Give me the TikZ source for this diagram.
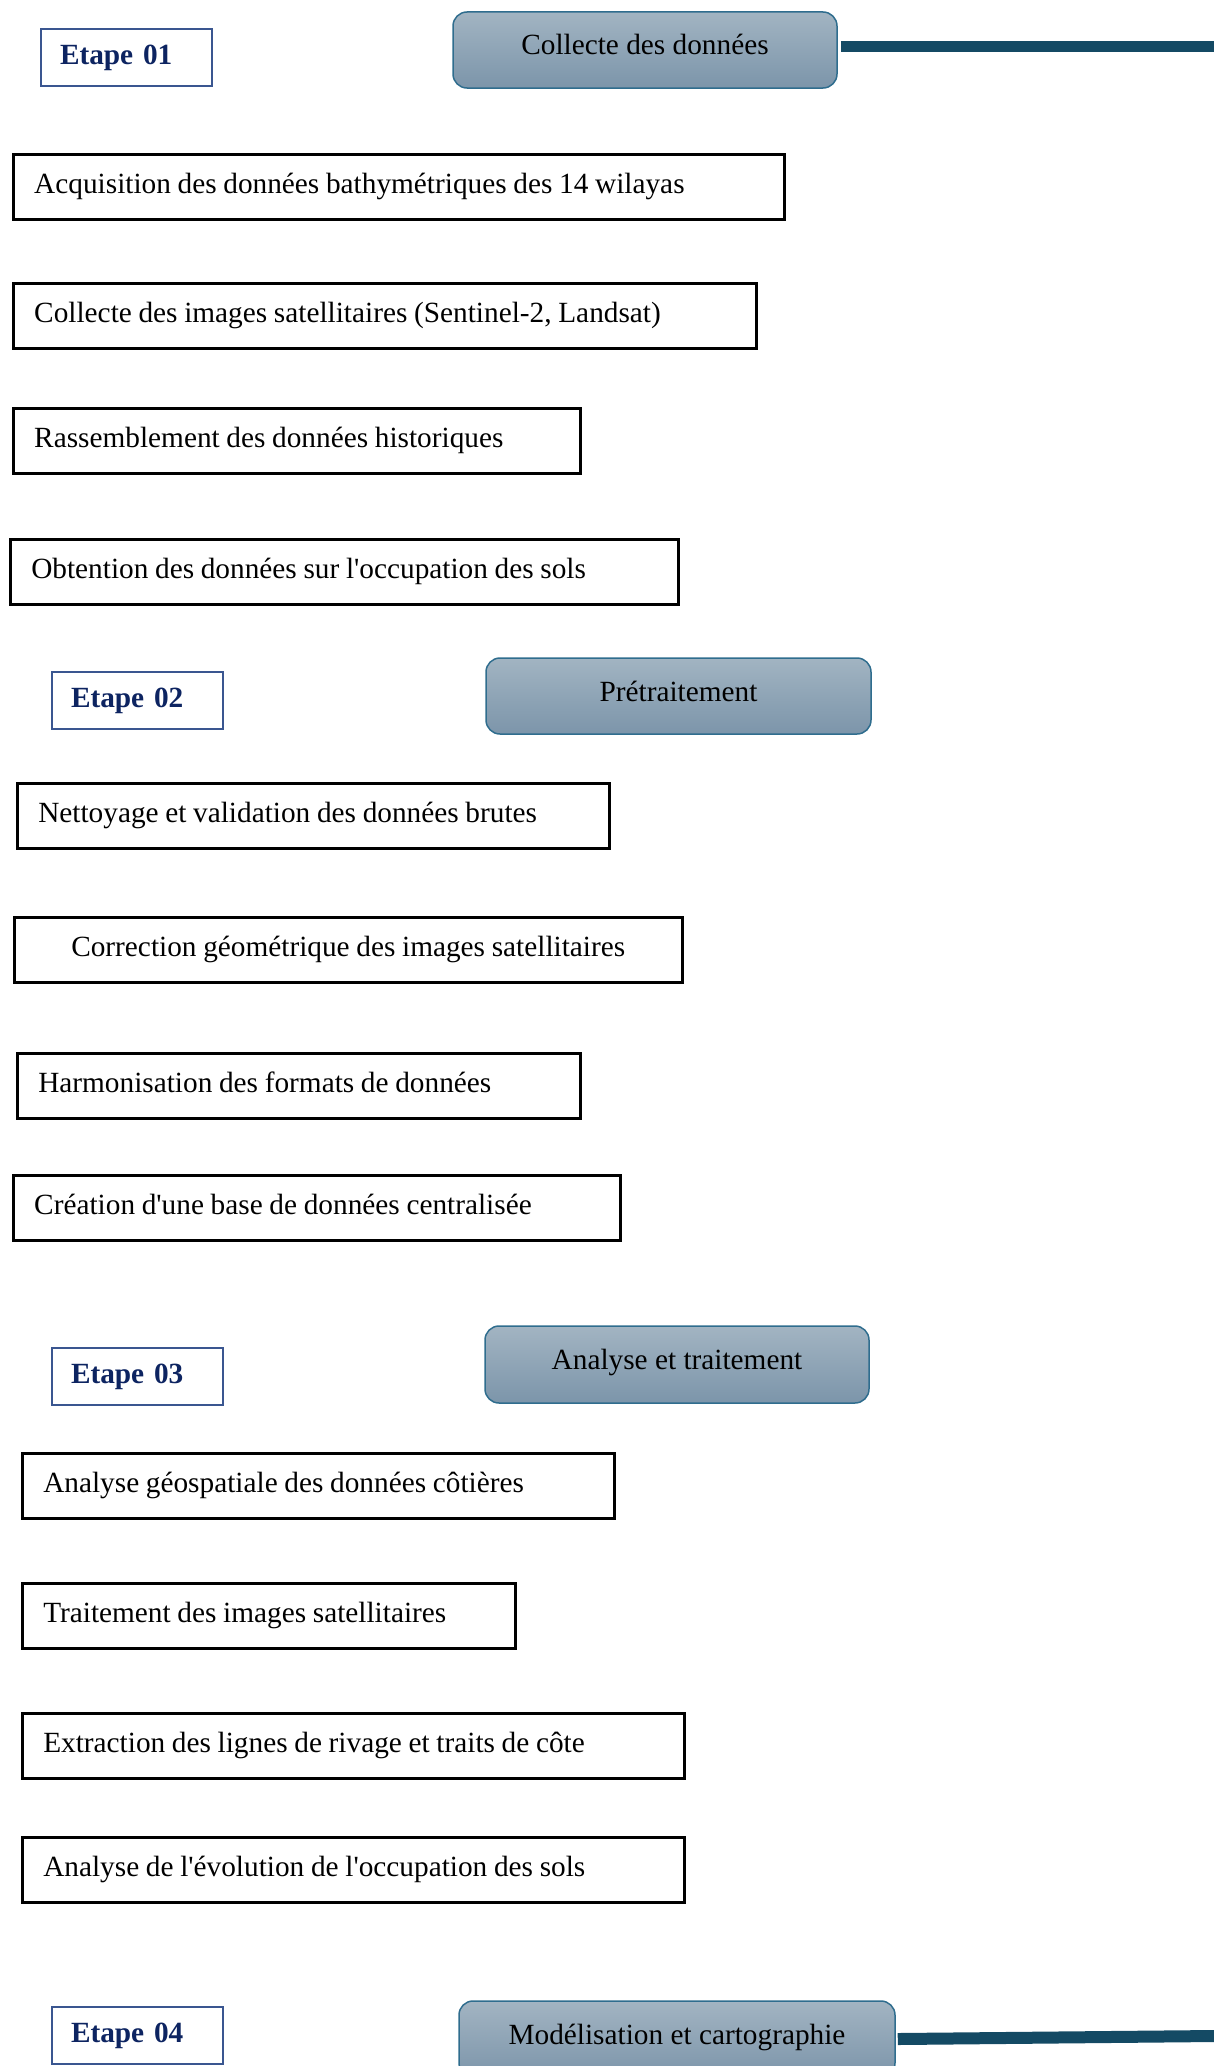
\documentclass[tikz,border=0pt]{standalone}
\usepackage{fontspec}
\setmainfont{Liberation Serif}[Ligatures=TeXOff]
\definecolor{phasetop}{HTML}{A2B4C2}
\definecolor{phasebot}{HTML}{7C95AA}
\definecolor{phaseline}{HTML}{2F6D8E}
\definecolor{barblue}{HTML}{144A64}
\definecolor{stepline}{HTML}{3A5690}
\definecolor{steptext}{HTML}{0D2461}

\begin{document}
\begin{tikzpicture}[x=1pt,y=-1pt,
  every node/.style={font=\fontsize{29.3}{35}\selectfont},
  stepbox/.style={draw=stepline, line width=2pt, fill=white, anchor=north west,
    minimum height=57pt, inner xsep=19pt, inner ysep=0pt, text width=133pt,
    text height=20pt, text depth=7pt, align=left, text=steptext,
    font=\fontsize{29.3}{35}\selectfont\bfseries},
  taskbox/.style={draw=black, line width=2.5pt, anchor=north west,
    minimum height=65pt, inner xsep=21pt, inner ysep=0pt,
    text height=20pt, text depth=7pt, align=left,
    execute at begin node={\spaceskip=0.228em\relax}},
  phasebox/.style={draw=phaseline, line width=1.5pt, rounded corners=14pt,
    top color=phasetop, bottom color=phasebot, minimum height=76pt,
    text height=20pt, text depth=10pt},
  bar/.style={draw=barblue, line width=11pt}]
\useasboundingbox (0,0) rectangle (1214,2066);
\clip (0,0) rectangle (1214,2066);

% Etape 01
\node[stepbox] (step1) at (40,28) {Etape 01};
\node[phasebox, minimum width=384pt] (collecte) at (645,50) {Collecte des données};
\coordinate (edge1) at (1214,47);
\draw[bar] ([xshift=3pt,yshift=3pt]collecte.east) -- (edge1);

\node[taskbox, text width=729pt] (t11) at (12,153) {Acquisition des données bathymétriques des 14 wilayas};
\node[taskbox, text width=701pt] (t12) at (12,282) {Collecte des images satellitaires (Sentinel-2, Landsat)};
\node[taskbox, text width=525pt] (t13) at (12,407) {Rassemblement des données historiques};
\node[taskbox, text width=626pt] (t14) at (9,538) {Obtention des données sur l'occupation des sols};

% Etape 02
\node[stepbox] (step2) at (51,671) {Etape 02};
\node[phasebox, minimum width=385pt] (pretrait) at (678.5,696) {Prétraitement};

\node[taskbox, text width=550pt] (t21) at (16,782) {Nettoyage et validation des données brutes};
\node[taskbox, text width=626pt, align=center] (t22) at (13,916) {Correction géométrique des images satellitaires};
\node[taskbox, text width=521pt] (t23) at (16,1052) {Harmonisation des formats de données};
\node[taskbox, text width=565pt] (t24) at (12,1174) {Création d'une base de données centralisée};

% Etape 03
\node[stepbox] (step3) at (51,1347) {Etape 03};
\node[phasebox, minimum width=384pt, minimum height=77pt] (analyse) at (677,1364.5) {Analyse et traitement};

\node[taskbox, text width=550pt] (t31) at (21,1452) {Analyse géospatiale des données côtières};
\node[taskbox, text width=451pt] (t32) at (21,1582) {Traitement des images satellitaires};
\node[taskbox, text width=620pt] (t33) at (21,1712) {Extraction des lignes de rivage et traits de côte};
\node[taskbox, text width=620pt] (t34) at (21,1836) {Analyse de l'évolution de l'occupation des sols};

% Etape 04
\node[stepbox] (step4) at (51,2006) {Etape 04};
\node[phasebox, minimum width=436pt] (modelis) at (677,2039) {Modélisation et cartographie};
\coordinate (edge4) at (1214,2036);
\draw[bar, line width=12pt] ([xshift=2pt]modelis.east) -- (edge4);

\end{tikzpicture}
\end{document}
